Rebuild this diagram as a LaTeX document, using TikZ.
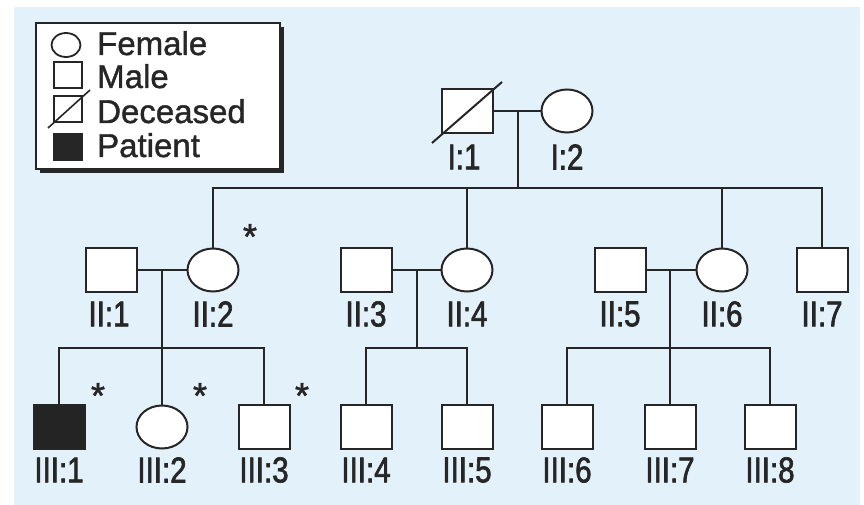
\documentclass[tikz,border=0pt]{standalone}
\usepackage{fontspec}
\setmainfont[FakeBold=1.2]{Liberation Sans}
\newfontfamily\labfont[FakeStretch=0.82,FakeBold=1.8]{Liberation Sans}
\newfontfamily\astfont[FakeBold=1.5]{Liberation Sans}
\usetikzlibrary{shapes.geometric}
\definecolor{bgblue}{HTML}{E2F1FA}
\definecolor{ink}{HTML}{262626}
\tikzset{
  line/.style={draw=ink, line width=2pt},
  male/.style={rectangle, draw=ink, line width=2pt, fill=white, minimum width=51pt, minimum height=44pt, inner sep=0pt},
  female/.style={ellipse, draw=ink, line width=2pt, fill=white, minimum width=51pt, minimum height=43pt, inner sep=0pt},
  patient/.style={male, fill=ink!95!black},
  lab/.style={font=\labfont\fontsize{36}{36}\selectfont, text=ink, inner sep=0pt},
  legtext/.style={font=\fontsize{33}{33}\selectfont, text=ink, inner sep=0pt, anchor=base west},
  astmark/.style={font=\astfont\fontsize{36}{36}\selectfont, text=ink, inner sep=0pt, anchor=north},
  lmale/.style={rectangle, draw=ink, line width=1.8pt, fill=white, minimum width=28pt, minimum height=26pt, inner sep=0pt},
  lfemale/.style={ellipse, draw=ink, line width=1.8pt, fill=white, minimum width=29pt, minimum height=24pt, inner sep=0pt},
}
\begin{document}
\begin{tikzpicture}[x=1pt, y=-1pt]
\useasboundingbox (0,0) rectangle (864,505);
\fill[white] (0,0) rectangle (864,505);
\fill[bgblue] (14,7) rectangle (860,505);

% legend
\fill[ink] (40,27) rectangle (284,173);
\draw[ink, line width=2pt, fill=white] (36,23) rectangle (280,169);
\node[lfemale] (lf) at (66,45) {};
\node[lmale] (lm) at (68,75) {};
\node[lmale] (ld) at (68,109) {};
\coordinate (ldA) at (48,128);
\coordinate (ldB) at (90,90);
\draw[ink, line width=1.6pt] (ldA) -- (ldB);
\node[lmale, fill=ink] (lp) at (68,147) {};
\node[legtext] (tf) at (97,55) {Female};
\node[legtext] (tm) at (97,88) {Male};
\node[legtext] (td) at (97,123) {Deceased};
\node[legtext] (tp) at (97,157) {Patient};

% generation I
\node[male] (I1) at (467,111) {};
\coordinate (dA) at (432,143);
\coordinate (dB) at (502,82);
\draw[line] (dA) -- (dB);
\node[female] (I2) at (567,111) {};
\node[lab] (lI1) at (464,157) {I:1};
\node[lab] (lI2) at (567,157) {I:2};
\coordinate (m1) at (518,111);
\coordinate (s1) at (518,188);
\draw[line] (I1.east) -- (I2.west);
\draw[line] (m1) -- (s1);

% generation II
\node[male] (II1) at (111,270) {};
\node[female] (II2) at (213,270) {};
\node[male] (II3) at (366,270) {};
\node[female] (II4) at (467,270) {};
\node[male] (II5) at (620,270) {};
\node[female] (II6) at (722,270) {};
\node[male] (II7) at (822,270) {};
\node[lab] (lII1) at (109,314) {II:1};
\node[lab] (lII2) at (213,314) {II:2};
\node[lab] (lII3) at (366,314) {II:3};
\node[lab] (lII4) at (467,314) {II:4};
\node[lab] (lII5) at (620,314) {II:5};
\node[lab] (lII6) at (722,314) {II:6};
\node[lab] (lII7) at (822,314) {II:7};
\node[astmark] (a1) at (250,224) {*};
\draw[line] (II2.north) |- (s1) -| (II7.north);
\draw[line] (II4.north) -- (II4.north |- s1);
\draw[line] (II6.north) -- (II6.north |- s1);

\draw[line] (II1.east) -- (II2.west);
\draw[line] (II3.east) -- (II4.west);
\draw[line] (II5.east) -- (II6.west);
\coordinate (m2) at (162,270);
\coordinate (m3) at (417,270);
\coordinate (m4) at (670,270);
\coordinate (s2) at (162,348);
\coordinate (s3) at (417,348);
\coordinate (s4) at (670,348);

% generation III
\node[patient] (III1) at (59,427) {};
\node[female] (III2) at (162,427) {};
\node[male] (III3) at (264,427) {};
\node[male] (III4) at (366,427) {};
\node[male] (III5) at (467,427) {};
\node[male] (III6) at (567,427) {};
\node[male] (III7) at (670,427) {};
\node[male] (III8) at (770,427) {};
\node[lab] (lIII1) at (59,470) {III:1};
\node[lab] (lIII2) at (162,470) {III:2};
\node[lab] (lIII3) at (264,470) {III:3};
\node[lab] (lIII4) at (366,470) {III:4};
\node[lab] (lIII5) at (467,470) {III:5};
\node[lab] (lIII6) at (567,470) {III:6};
\node[lab] (lIII7) at (670,470) {III:7};
\node[lab] (lIII8) at (770,470) {III:8};
\node[astmark] (a2) at (98,383) {*};
\node[astmark] (a3) at (200,383) {*};
\node[astmark] (a4) at (302,383) {*};

\draw[line] (m2) -- (III2.north);
\draw[line] (III1.north) |- (s2) -| (III3.north);
\draw[line] (m3) -- (s3);
\draw[line] (III4.north) |- (s3) -| (III5.north);
\draw[line] (m4) -- (III7.north);
\draw[line] (III6.north) |- (s4) -| (III8.north);
\end{tikzpicture}
\end{document}
